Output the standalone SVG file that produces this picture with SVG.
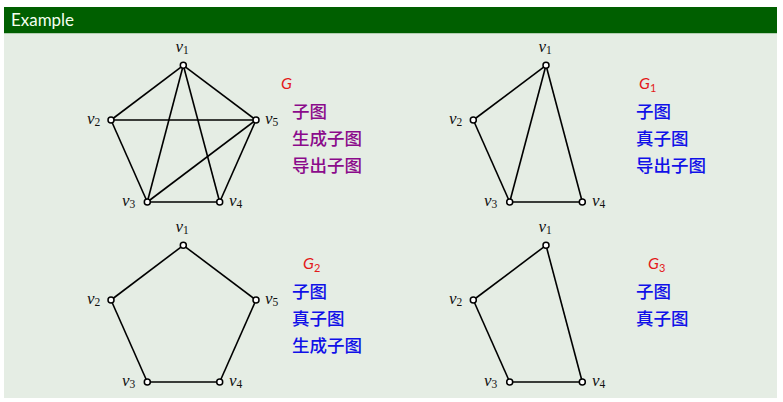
<svg xmlns="http://www.w3.org/2000/svg" width="783" height="402" viewBox="0 0 783 402">
<style>
.edge{stroke:#000;stroke-width:1.6;fill:none}
.vtx{fill:#fff;stroke:#000;stroke-width:1.5}
.vl{font-family:"Liberation Serif",serif;font-style:italic;font-size:17px;fill:#111}
.sub{font-style:normal;font-size:11.5px}
.gl{font-family:"Lato","Liberation Sans",sans-serif;font-style:italic;font-size:16px;fill:#e31a1a}
.gs{font-style:normal;font-size:11px}
.cn{font-family:"Noto Sans CJK SC",sans-serif;font-size:17.5px;font-weight:500}
.pu{fill:#8b0a8b}
.bl{fill:#1010e8}
</style>
<rect x="4" y="7" width="773" height="26.5" fill="#005f00"/>
<rect x="4" y="33.5" width="773" height="364.5" fill="#e5ede4"/>
<text x="11" y="26" font-family="Lato,'Liberation Sans',sans-serif" font-size="17" fill="#f4fff0" textLength="63" lengthAdjust="spacingAndGlyphs">Example</text>

<g id="connectors">
  <!-- G -->
  <line class="edge" x1="183.3" y1="65.3" x2="111" y2="120"/>
  <line class="edge" x1="183.3" y1="65.3" x2="256" y2="120"/>
  <line class="edge" x1="183.3" y1="65.3" x2="147.3" y2="202"/>
  <line class="edge" x1="183.3" y1="65.3" x2="219.7" y2="202"/>
  <line class="edge" x1="111" y1="120" x2="256" y2="120"/>
  <line class="edge" x1="111" y1="120" x2="147.3" y2="202"/>
  <line class="edge" x1="256" y1="120" x2="147.3" y2="202"/>
  <line class="edge" x1="256" y1="120" x2="219.7" y2="202"/>
  <line class="edge" x1="147.3" y1="202" x2="219.7" y2="202"/>
  <!-- G1 -->
  <line class="edge" x1="546" y1="65.3" x2="473.3" y2="120"/>
  <line class="edge" x1="546" y1="65.3" x2="509.7" y2="202"/>
  <line class="edge" x1="546" y1="65.3" x2="582.3" y2="202"/>
  <line class="edge" x1="473.3" y1="120" x2="509.7" y2="202"/>
  <line class="edge" x1="509.7" y1="202" x2="582.3" y2="202"/>
  <!-- G2 -->
  <line class="edge" x1="183.3" y1="245.3" x2="111" y2="300"/>
  <line class="edge" x1="183.3" y1="245.3" x2="256" y2="300"/>
  <line class="edge" x1="111" y1="300" x2="147.3" y2="382"/>
  <line class="edge" x1="256" y1="300" x2="219.7" y2="382"/>
  <line class="edge" x1="147.3" y1="382" x2="219.7" y2="382"/>
  <!-- G3 -->
  <line class="edge" x1="546" y1="245.3" x2="473.3" y2="300"/>
  <line class="edge" x1="546" y1="245.3" x2="582.3" y2="382"/>
  <line class="edge" x1="473.3" y1="300" x2="509.7" y2="382"/>
  <line class="edge" x1="509.7" y1="382" x2="582.3" y2="382"/>
</g>

<!-- Graph G -->
<g id="G-v1"><circle class="vtx" cx="183.3" cy="65.3" r="3"/><text class="vl" x="175.5" y="52">v<tspan class="sub" dy="2">1</tspan></text></g>
<g id="G-v2"><circle class="vtx" cx="111" cy="120" r="3"/><text class="vl" x="87" y="123.5">v<tspan class="sub" dy="2">2</tspan></text></g>
<g id="G-v5"><circle class="vtx" cx="256" cy="120" r="3"/><text class="vl" x="265" y="123.5">v<tspan class="sub" dy="2">5</tspan></text></g>
<g id="G-v3"><circle class="vtx" cx="147.3" cy="202" r="3"/><text class="vl" x="122" y="205.5">v<tspan class="sub" dy="2">3</tspan></text></g>
<g id="G-v4"><circle class="vtx" cx="219.7" cy="202" r="3"/><text class="vl" x="229" y="205.5">v<tspan class="sub" dy="2">4</tspan></text></g>
<g id="G-label">
  <text class="gl" x="281" y="89">G</text>
  <text class="cn pu" x="292" y="118">子图</text>
  <text class="cn pu" x="292" y="145">生成子图</text>
  <text class="cn pu" x="292" y="172">导出子图</text>
</g>

<!-- Graph G1 -->
<g id="G1-v1"><circle class="vtx" cx="546" cy="65.3" r="3"/><text class="vl" x="538.5" y="52">v<tspan class="sub" dy="2">1</tspan></text></g>
<g id="G1-v2"><circle class="vtx" cx="473.3" cy="120" r="3"/><text class="vl" x="449" y="123.5">v<tspan class="sub" dy="2">2</tspan></text></g>
<g id="G1-v3"><circle class="vtx" cx="509.7" cy="202" r="3"/><text class="vl" x="484" y="205.5">v<tspan class="sub" dy="2">3</tspan></text></g>
<g id="G1-v4"><circle class="vtx" cx="582.3" cy="202" r="3"/><text class="vl" x="592" y="205.5">v<tspan class="sub" dy="2">4</tspan></text></g>
<g id="G1-label">
  <text class="gl" x="639" y="89">G<tspan class="gs" dy="3">1</tspan></text>
  <text class="cn bl" x="636" y="118">子图</text>
  <text class="cn bl" x="636" y="145">真子图</text>
  <text class="cn bl" x="636" y="172">导出子图</text>
</g>

<!-- Graph G2 -->
<g id="G2-v1"><circle class="vtx" cx="183.3" cy="245.3" r="3"/><text class="vl" x="175.5" y="232">v<tspan class="sub" dy="2">1</tspan></text></g>
<g id="G2-v2"><circle class="vtx" cx="111" cy="300" r="3"/><text class="vl" x="87" y="303.5">v<tspan class="sub" dy="2">2</tspan></text></g>
<g id="G2-v5"><circle class="vtx" cx="256" cy="300" r="3"/><text class="vl" x="265" y="303.5">v<tspan class="sub" dy="2">5</tspan></text></g>
<g id="G2-v3"><circle class="vtx" cx="147.3" cy="382" r="3"/><text class="vl" x="122" y="385.5">v<tspan class="sub" dy="2">3</tspan></text></g>
<g id="G2-v4"><circle class="vtx" cx="219.7" cy="382" r="3"/><text class="vl" x="229" y="385.5">v<tspan class="sub" dy="2">4</tspan></text></g>
<g id="G2-label">
  <text class="gl" x="303" y="269">G<tspan class="gs" dy="3">2</tspan></text>
  <text class="cn bl" x="292" y="298">子图</text>
  <text class="cn bl" x="292" y="325">真子图</text>
  <text class="cn bl" x="292" y="352">生成子图</text>
</g>

<!-- Graph G3 -->
<g id="G3-v1"><circle class="vtx" cx="546" cy="245.3" r="3"/><text class="vl" x="538.5" y="232">v<tspan class="sub" dy="2">1</tspan></text></g>
<g id="G3-v2"><circle class="vtx" cx="473.3" cy="300" r="3"/><text class="vl" x="449" y="303.5">v<tspan class="sub" dy="2">2</tspan></text></g>
<g id="G3-v3"><circle class="vtx" cx="509.7" cy="382" r="3"/><text class="vl" x="484" y="385.5">v<tspan class="sub" dy="2">3</tspan></text></g>
<g id="G3-v4"><circle class="vtx" cx="582.3" cy="382" r="3"/><text class="vl" x="592" y="385.5">v<tspan class="sub" dy="2">4</tspan></text></g>
<g id="G3-label">
  <text class="gl" x="648" y="269">G<tspan class="gs" dy="3">3</tspan></text>
  <text class="cn bl" x="636" y="298">子图</text>
  <text class="cn bl" x="636" y="325">真子图</text>
</g>
</svg>
